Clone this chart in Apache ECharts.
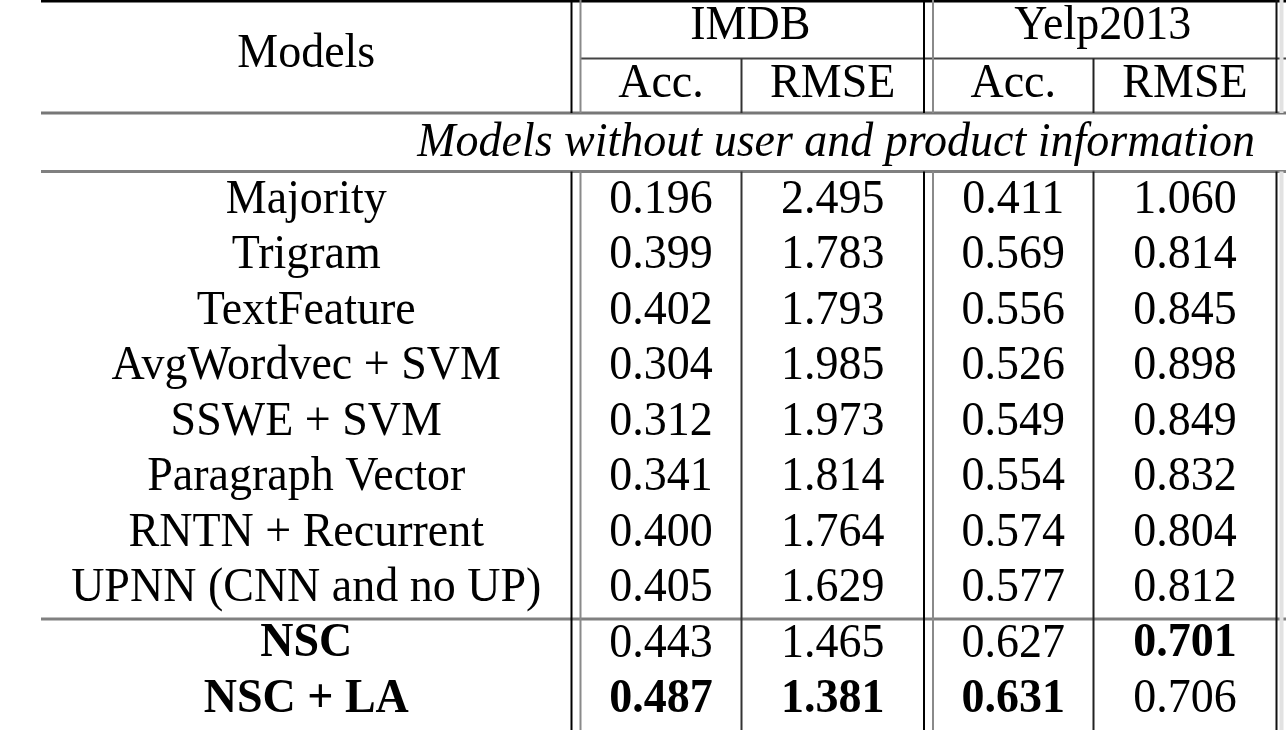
<!DOCTYPE html>
<html><head><meta charset="utf-8">
<script src="https://cdn.jsdelivr.net/npm/echarts@6/dist/echarts.min.js"></script>
<style>html,body{margin:0;padding:0;background:#fff}#c{width:1286px;height:730px}</style>
</head><body><div id="c"></div>
<script>
// ---- data ----
const headerModels = 'Models';
const datasets = ['IMDB', 'Yelp2013'];
const metrics = ['Acc.', 'RMSE'];
const groupTitle = 'Models without user and product information';
const models = ['Majority', 'Trigram', 'TextFeature', 'AvgWordvec + SVM', 'SSWE + SVM',
  'Paragraph Vector', 'RNTN + Recurrent', 'UPNN (CNN and no UP)', 'NSC', 'NSC + LA'];
const proposedModels = ['NSC', 'NSC + LA'];
const imdbAcc  = [0.196, 0.399, 0.402, 0.304, 0.312, 0.341, 0.400, 0.405, 0.443, 0.487];
const imdbRmse = [2.495, 1.783, 1.793, 1.985, 1.973, 1.814, 1.764, 1.629, 1.465, 1.381];
const yelpAcc  = [0.411, 0.569, 0.556, 0.526, 0.549, 0.554, 0.574, 0.577, 0.627, 0.631];
const yelpRmse = [1.060, 0.814, 0.845, 0.898, 0.849, 0.832, 0.804, 0.812, 0.701, 0.706];

// ---- layout ----
const W = 1286, H = 730;
const FS = 46;
const FAMILY = '"Liberation Serif","Times New Roman",serif';
const xL = 41, xV1 = 571.5, xV1b = 580.5, xV2 = 741.5, xV3 = 924, xV3b = 933, xV4 = 1093.5, xR = 1276.5;
const colCenters = [(xL + xV1) / 2, (xV1b + xV2) / 2, (xV2 + xV3) / 2, (xV3b + xV4) / 2, (xV4 + xR) / 2];
const dsCenters = [(xV1b + xV3) / 2 - 2, (xV3b + xR) / 2 - 2];
const yTop = 1, yMid = 58.5, yHead = 113, yGroup = 171.5, ySplit = 619;
const rowY0 = 200, rowStep = 55.5;

const numCols = [imdbAcc, imdbRmse, yelpAcc, yelpRmse];
const higherBetter = [true, false, true, false];
const bestIdx = numCols.map((arr, k) => {
  let b = 0;
  arr.forEach((v, i) => { if (higherBetter[k] ? v > arr[b] : v < arr[b]) b = i; });
  return b;
});

// cells: [x, y, text, bold, italic, align]
const cells = [];
cells.push([colCenters[0], 54, headerModels, 0, 0, 'center']);
datasets.forEach((d, i) => cells.push([dsCenters[i], 26, d, 0, 0, 'center']));
datasets.forEach((d, i) => metrics.forEach((m, j) => cells.push([colCenters[1 + i * 2 + j], 84, m, 0, 0, 'center'])));
cells.push([1255, 143, groupTitle, 0, 1, 'right']);
models.forEach((m, i) => {
  const y = rowY0 + rowStep * i;
  cells.push([colCenters[0], y, m, proposedModels.includes(m) ? 1 : 0, 0, 'center']);
  numCols.forEach((arr, k) => cells.push([colCenters[k + 1], y, arr[i].toFixed(3), bestIdx[k] === i ? 1 : 0, 0, 'center']));
});

// ---- rules ----
const hl = (y, x1, x2, color, w) => ({ type: 'line', shape: { x1, y1: y, x2, y2: y }, style: { stroke: color, lineWidth: w }, silent: true });
const vl = (x, y1, y2, color, w) => ({ type: 'line', shape: { x1: x, y1, x2: x, y2 }, style: { stroke: color, lineWidth: w }, silent: true });
const rules = [
  hl(yTop, xL, W, '#000', 3),
  hl(yMid, xV1b, W, '#444', 2),
  hl(yHead, xL, W, '#777', 3),
  hl(yGroup, xL, W, '#808080', 3),
  hl(ySplit, xL, W, '#808080', 3)
];
[[xV1, '#000'], [xV1b, '#8a8a8a'], [xV3, '#000'], [xV3b, '#8a8a8a'], [xR, '#111']].forEach(([x, c]) => {
  rules.push(vl(x, 0, yHead, c, 2));
  rules.push(vl(x, yGroup, H, c, 2));
});
[[xV2, '#333'], [xV4, '#222']].forEach(([x, c]) => {
  rules.push(vl(x, yMid, yHead, c, 2));
  rules.push(vl(x, yGroup, H, c, 2));
});
rules.push(vl(1281.5, 0, yHead, '#e2e2e2', 4));
rules.push(vl(1281.5, yGroup, H, '#e2e2e2', 4));

const chart = echarts.init(document.getElementById('c'), null, { renderer: 'canvas' });
chart.setOption({
  backgroundColor: '#fff',
  animation: false,
  grid: { left: 0, right: 0, top: 0, bottom: 0 },
  xAxis: { type: 'value', min: 0, max: W, show: false },
  yAxis: { type: 'value', min: 0, max: H, inverse: true, show: false },
  graphic: { elements: rules },
  series: [{
    type: 'custom',
    coordinateSystem: 'cartesian2d',
    data: cells,
    renderItem: function (params, api) {
      const c = cells[params.dataIndex];
      const p = api.coord([c[0], c[1]]);
      return {
        type: 'text',
        x: p[0], y: p[1],
        scaleY: 1.05,
        style: {
          text: c[2],
          font: (c[4] ? 'italic ' : '') + (c[3] ? 'bold ' : '') + FS + 'px ' + FAMILY,
          fill: '#000',
          align: c[5],
          verticalAlign: 'middle'
        }
      };
    }
  }]
});
</script></body></html>
